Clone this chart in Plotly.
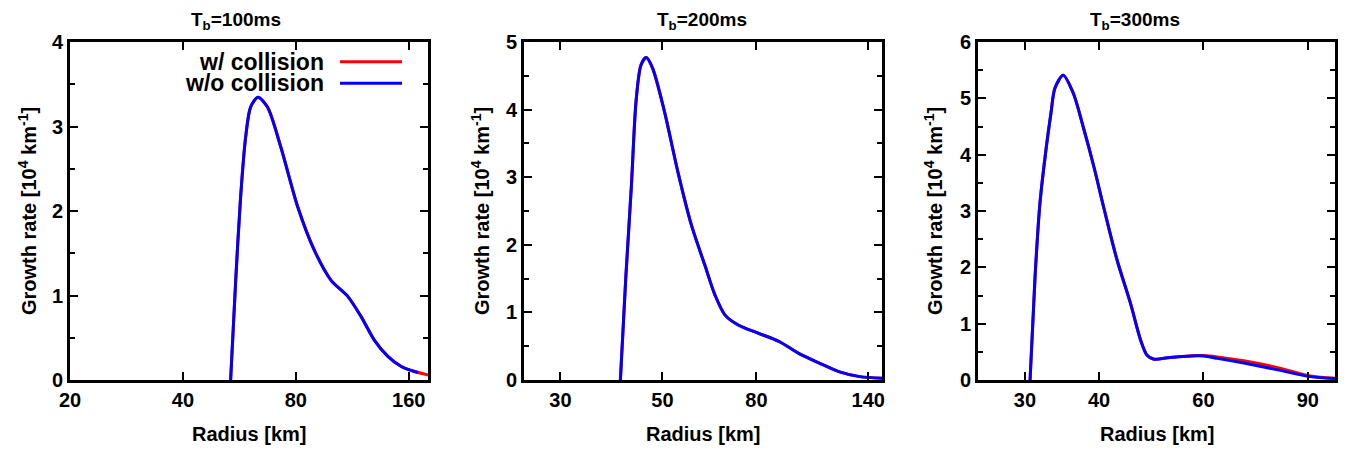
import math
import plotly.graph_objects as go

# ---- data ----
titles = ["T<sub>b</sub>=100ms", "T<sub>b</sub>=200ms", "T<sub>b</sub>=300ms"]

# Panel 1 (Tb = 100 ms)
r1_blue = [53.6, 55.3, 57.0, 58.8, 60.6, 63.4, 67.2, 72.9, 80.9, 89.5, 99.3, 110.0, 119.4, 129.6, 140.7, 152.8, 165.8, 169.3]
g1_blue = [0.0, 1.18, 2.17, 2.88, 3.23, 3.345, 3.23, 2.76, 2.05, 1.54, 1.18, 0.99, 0.75, 0.47, 0.28, 0.16, 0.10, 0.09]
r1_red = [53.6, 55.3, 57.0, 58.8, 60.6, 63.4, 67.2, 72.9, 80.9, 89.5, 99.3, 110.0, 119.4, 129.6, 140.7, 152.8, 165.8, 180.0]
g1_red = [0.0, 1.18, 2.17, 2.88, 3.23, 3.345, 3.23, 2.76, 2.05, 1.54, 1.18, 0.99, 0.75, 0.47, 0.28, 0.16, 0.10, 0.06]

# Panel 2 (Tb = 200 ms)
r2_blue = [40.5, 41.6, 42.8, 43.8, 44.9, 46.1, 47.6, 50.5, 54.0, 57.8, 61.8, 65.0, 68.4, 73.2, 80.9, 89.6, 99.1, 109.6, 121.3, 134.2, 151.0]
g2_blue = [0.0, 1.50, 2.88, 4.12, 4.66, 4.77, 4.61, 3.97, 3.08, 2.29, 1.70, 1.26, 0.96, 0.81, 0.69, 0.57, 0.39, 0.25, 0.12, 0.05, 0.025]
r2_red = [40.5, 41.6, 42.8, 43.8, 44.9, 46.1, 47.6, 50.5, 54.0, 57.8, 61.8, 65.0, 68.4, 73.2, 80.9, 89.6, 99.1, 109.6, 121.3, 134.2, 151.0]
g2_red = [0.0, 1.50, 2.88, 4.12, 4.66, 4.77, 4.61, 3.97, 3.08, 2.29, 1.70, 1.26, 0.96, 0.81, 0.69, 0.57, 0.39, 0.25, 0.12, 0.05, 0.025]

# Panel 3 (Tb = 300 ms)
r3_blue = [30.6, 31.2, 31.8, 32.6, 33.2, 33.7, 34.8, 36.2, 37.6, 39.2, 40.7, 42.9, 45.2, 47.0, 48.2, 49.5, 52.7, 58.6, 60.1, 63.3, 70.2, 80.0, 90.8, 100.0]
g3_blue = [0.0, 1.83, 3.14, 4.14, 4.75, 5.18, 5.41, 5.09, 4.50, 3.79, 3.08, 2.13, 1.36, 0.71, 0.44, 0.37, 0.40, 0.43, 0.425, 0.385, 0.30, 0.18, 0.06, 0.025]
r3_red = [30.6, 31.2, 31.8, 32.6, 33.2, 33.7, 34.8, 36.2, 37.6, 39.2, 40.7, 42.9, 45.2, 47.0, 48.2, 49.5, 52.7, 58.6, 60.1, 63.3, 70.2, 80.0, 90.8, 100.0]
g3_red = [0.0, 1.83, 3.14, 4.14, 4.75, 5.18, 5.41, 5.09, 4.50, 3.79, 3.08, 2.13, 1.36, 0.71, 0.44, 0.37, 0.40, 0.435, 0.435, 0.41, 0.34, 0.22, 0.07, 0.03]

x_ranges = [(20, 180), (25, 150), (25, 100)]
x_ticks = [[20, 40, 80, 160], [30, 50, 80, 140], [30, 40, 60, 90]]
y_max = [4, 5, 6]
series = [
    (r1_red, g1_red, r1_blue, g1_blue),
    (r2_red, g2_red, r2_blue, g2_blue),
    (r3_red, g3_red, r3_blue, g3_blue),
]
legend_labels = ["w/ collision", "w/o collision"]

# ---- layout geometry (screen pixels of the 1350x450 window) ----
OFF = 8                      # default page body margin
W, H = 1350 - OFF, 450 - OFF
px_left = [70, 524, 978]
px_right = [428, 882, 1335]
px_top, px_bottom = 42, 380
title_x = [236, 702, 1135]
ytitle_x = [27, 480, 933]


def sx(v):
    return (v - OFF) / W


def sy(v):
    return (H - (v - OFF)) / H


FONT = "Liberation Sans"
RED = "#ff0000"
BLUE = "#0000ff"

fig = go.Figure()
annotations = []
shapes = []

for i in range(3):
    xa = "x" if i == 0 else f"x{i+1}"
    ya = "y" if i == 0 else f"y{i+1}"
    rr, gr, rb, gb = series[i]
    fig.add_trace(go.Scatter(x=rr, y=gr, mode="lines", xaxis=xa, yaxis=ya,
                             line=dict(color=RED, width=3, shape="spline", smoothing=0.8),
                             name=legend_labels[0], showlegend=False))
    fig.add_trace(go.Scatter(x=rb, y=gb, mode="lines", xaxis=xa, yaxis=ya,
                             line=dict(color=BLUE, width=3, shape="spline", smoothing=0.8),
                             name=legend_labels[1], showlegend=False))

    dom_x = [sx(px_left[i]), sx(px_right[i])]
    dom_y = [sy(px_bottom), sy(px_top)]
    xkey = "xaxis" if i == 0 else f"xaxis{i+1}"
    ykey = "yaxis" if i == 0 else f"yaxis{i+1}"
    fig.layout[xkey] = dict(
        type="log", domain=dom_x, anchor=ya, automargin=False,
        range=[math.log10(x_ranges[i][0]), math.log10(x_ranges[i][1])],
        tickvals=x_ticks[i], ticktext=[str(t) for t in x_ticks[i]],
        ticks="inside", ticklen=8, tickwidth=1.5, tickcolor="black",
        showline=True, linewidth=3, linecolor="black", mirror="ticks",
        showgrid=False, zeroline=False,
        tickfont=dict(family=FONT, size=20, color="black", weight="bold"),
    )
    fig.layout[ykey] = dict(
        domain=dom_y, anchor=xa, range=[0, y_max[i]], automargin=False,
        tickmode="linear", tick0=0, dtick=1,
        ticks="inside", ticklen=8, tickwidth=1.5, tickcolor="black",
        minor=dict(dtick=0.5, tick0=0, ticks="inside", ticklen=5, tickwidth=1.5, tickcolor="black", showgrid=False),
        showline=True, linewidth=3, linecolor="black", mirror="ticks",
        showgrid=False, zeroline=False,
        tickfont=dict(family=FONT, size=20, color="black", weight="bold"),
    )

    annotations.append(dict(text=titles[i], x=sx(title_x[i]), y=1.0, xref="paper", yref="paper",
                            xanchor="center", yanchor="top", showarrow=False, borderpad=0,
                            font=dict(family=FONT, size=19, color="black", weight="bold")))
    annotations.append(dict(text="Growth rate [10<sup>4</sup> km<sup>-1</sup>]", x=sx(ytitle_x[i]),
                            y=sy(211), xref="paper", yref="paper", textangle=-90,
                            xanchor="center", yanchor="middle", showarrow=False,
                            font=dict(family=FONT, size=20, color="black", weight="bold")))
    annotations.append(dict(text="Radius [km]", x=sx((px_left[i] + px_right[i]) / 2), y=sy(434),
                            xref="paper", yref="paper", xanchor="center", yanchor="middle", showarrow=False,
                            font=dict(family=FONT, size=20, color="black", weight="bold")))

# gnuplot-style key in panel 1 (text left, sample line right)
leg_rows = [61.7, 83.3]
leg_colors = [RED, BLUE]
for k in range(2):
    annotations.append(dict(text=legend_labels[k], x=sx(326), y=sy(leg_rows[k]), xref="paper", yref="paper",
                            xanchor="right", yanchor="middle", showarrow=False,
                            font=dict(family=FONT, size=23, color="black", weight="bold")))
    shapes.append(dict(type="line", xref="paper", yref="paper", x0=sx(340), x1=sx(402),
                       y0=sy(leg_rows[k]), y1=sy(leg_rows[k]),
                       line=dict(color=leg_colors[k], width=3)))

fig.update_layout(
    template="none",
    width=W, height=H, margin=dict(l=0, r=0, t=0, b=0, autoexpand=False),
    paper_bgcolor="white", plot_bgcolor="white",
    annotations=annotations, shapes=shapes, showlegend=False,
    font=dict(family=FONT, color="black"),
)

fig.write_html("out.html")
